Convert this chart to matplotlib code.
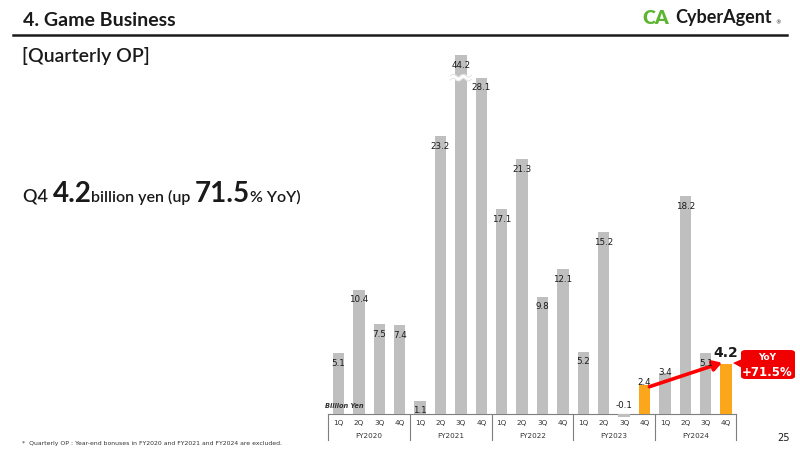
import matplotlib
matplotlib.use("Agg")
import matplotlib.pyplot as plt
import numpy as np
from matplotlib.patches import FancyBboxPatch, Polygon

# ---- data ----
fiscal_years = ["FY2020", "FY2021", "FY2022", "FY2023", "FY2024"]
quarters = ["1Q", "2Q", "3Q", "4Q"]
op_values = [5.1, 10.4, 7.5, 7.4,
             1.1, 23.2, 44.2, 28.1,
             17.1, 21.3, 9.8, 12.1,
             5.2, 15.2, -0.1, 2.4,
             3.4, 18.2, 5.1, 4.2]
value_labels = ["5.1", "10.4", "7.5", "7.4",
                "1.1", "23.2", "44.2", "28.1",
                "17.1", "21.3", "9.8", "12.1",
                "5.2", "15.2", "-0.1", "2.4",
                "3.4", "18.2", "5.1", "4.2"]
highlight_idx = [15, 19]
yoy_text = "+71.5%"
display_cap = 30.0      # broken-axis display cap for the tall bar
break_level = 28.1

GREY = "#BFBFBF"
ORANGE = "#FBA61B"
RED = "#FF0000"
DARK = "#1a1a1a"

W, H = 800, 450
fig = plt.figure(figsize=(8, 4.5), dpi=100)
renderer = fig.canvas.get_renderer()

def ftext(x, y, s, **kw):
    return fig.text(x / W, 1 - y / H, s, **kw)

# ---- header ----
ftext(23, 20, "4. Game Business", fontsize=14, fontweight="bold", color=DARK,
      family="Lato", va="center", ha="left")
fig.add_artist(plt.Line2D([13 / W, 787 / W], [1 - 35 / H, 1 - 35 / H], color=DARK, lw=1.8))
ftext(22, 56, "[Quarterly OP]", fontsize=14, fontweight="semibold", color=DARK,
      family="Lato", va="center", ha="left")

# logo
ftext(642, 18, "CA", fontsize=14, fontweight="heavy", color="#5DB531", family="Lato",
      va="center", ha="left")
ftext(675, 18, "CyberAgent", fontsize=13, fontweight="bold", color=DARK, family="Lato",
      va="center", ha="left")
ftext(775, 23, "®", fontsize=4, color=DARK, va="center", ha="left")

# headline (pieces placed one after another)
pieces = [("Q4 ", 13, 23), ("4.2", 20, None), ("billion yen (up ", 11.5, None),
          ("71.5", 20, None), ("% YoY)", 11.5, None)]
xcur = 23
for s, fs, x0 in pieces:
    t = ftext(xcur, 202, s, fontsize=fs, fontweight="bold" if fs > 15 else "semibold",
              color=DARK, family="Lato", va="baseline", ha="left")
    bb = t.get_window_extent(renderer=renderer)
    xcur += bb.width

# ---- chart ----
unit_px = 11.97
left_px, right_px, base_px = 328.3, 736.3, 414
ymax = 32
ax = fig.add_axes([left_px / W, (H - base_px) / H, (right_px - left_px) / W, ymax * unit_px / H])
n = len(op_values)
x = np.arange(n)
ax.set_xlim(-0.5, n - 0.5)
ax.set_ylim(0, ymax)
for s in ["top", "right", "left"]:
    ax.spines[s].set_visible(False)
ax.spines["bottom"].set_color("#7f7f7f")
ax.spines["bottom"].set_linewidth(0.8)
ax.set_xticks([])
ax.set_yticks([])
ax.patch.set_alpha(0)

shown = [min(v, display_cap) for v in op_values]
shown = [v if v >= 0 else min(v, -0.25) for v in shown]
colors = [ORANGE if i in highlight_idx else GREY for i in range(n)]
ax.bar(x, shown, width=0.56, color=colors, clip_on=False, zorder=3)

# break mark on the tall bar
tall = int(np.argmax(op_values))
xs = np.linspace(tall - 0.53, tall + 0.53, 40)
wave = 0.12 * np.sin((xs - tall) * 2 * np.pi / 0.5)
ax.plot(xs, break_level + wave, color="white", lw=3.2, zorder=4, solid_capstyle="butt")
ax.plot(xs, break_level + wave + 0.16, color="#d9d9d9", lw=0.5, zorder=4)
ax.plot(xs, break_level + wave - 0.16, color="#d9d9d9", lw=0.5, zorder=4)

# value labels
special = {14: ("above", 0.7), 15: ("top", 0.25), 16: ("top", 0.1)}
for i, (v, lab) in enumerate(zip(shown, value_labels)):
    if i == 19:
        ax.annotate(lab, (i, v), xytext=(0, 8), textcoords="offset points",
                    ha="center", va="center", fontsize=10, fontweight="bold", color=DARK, zorder=6)
        continue
    if i in special:
        kind, dy = special[i]
        yv = (0 if kind == "above" else v) + dy
        ax.text(i, yv, lab, ha="center", va="center", fontsize=6.3, color=DARK, zorder=6)
    else:
        ax.annotate(lab, (i, v), xytext=(0, -7.3), textcoords="offset points",
                    ha="center", va="center", fontsize=6.3, color=DARK, zorder=6)

# red arrow
ax.annotate("", xy=(18.8, 4.29), xytext=(15.24, 2.28),
            arrowprops=dict(arrowstyle="-|>,head_length=0.5,head_width=0.3", color=RED, lw=2.6,
                            shrinkA=0, shrinkB=0), zorder=5, annotation_clip=False)

# category table below axis
for i in range(n):
    ax.text(i, -9 / unit_px, quarters[i % 4], ha="center", va="center", fontsize=5.2,
            color="#333333", clip_on=False)
for k, fy in enumerate(fiscal_years):
    ax.text(4 * k + 1.5, -21.5 / unit_px, fy, ha="center", va="center", fontsize=5.2,
            color="#333333", clip_on=False)
for k in range(len(fiscal_years) + 1):
    ax.plot([4 * k - 0.5, 4 * k - 0.5], [0, -26 / unit_px], color="#7f7f7f", lw=0.8,
            clip_on=False)

ftext(325, 406, "Billion Yen", fontsize=4.8, style="italic", fontweight="bold", color="#333333",
      va="center", ha="left")

# YoY callout
box = FancyBboxPatch((741 / W, 1 - 379 / H), (795 - 741) / W, (379 - 350) / H,
                     boxstyle="round,pad=0,rounding_size=0.006", transform=fig.transFigure,
                     facecolor="#F00000", edgecolor="none")
fig.add_artist(box)
tri = Polygon([(742 / W, 1 - 359 / H), (733 / W, 1 - 363 / H), (742 / W, 1 - 368 / H)],
              closed=True, transform=fig.transFigure, facecolor="#F00000", edgecolor="none")
fig.add_artist(tri)
ftext(767, 357, "YoY", fontsize=6.5, fontweight="bold", color="white", ha="center", va="center")
ftext(767, 372, yoy_text, fontsize=8.5, fontweight="bold", color="white", ha="center", va="center")

# footnote and page number
ftext(22, 443, "*  Quarterly OP : Year-end bonuses in FY2020 and FY2021 and FY2024 are excluded.",
      fontsize=4.4, color="#333333", va="center", ha="left")
ftext(790, 438, "25", fontsize=7, color=DARK, va="center", ha="right")

fig.savefig("out.png", dpi=100)
